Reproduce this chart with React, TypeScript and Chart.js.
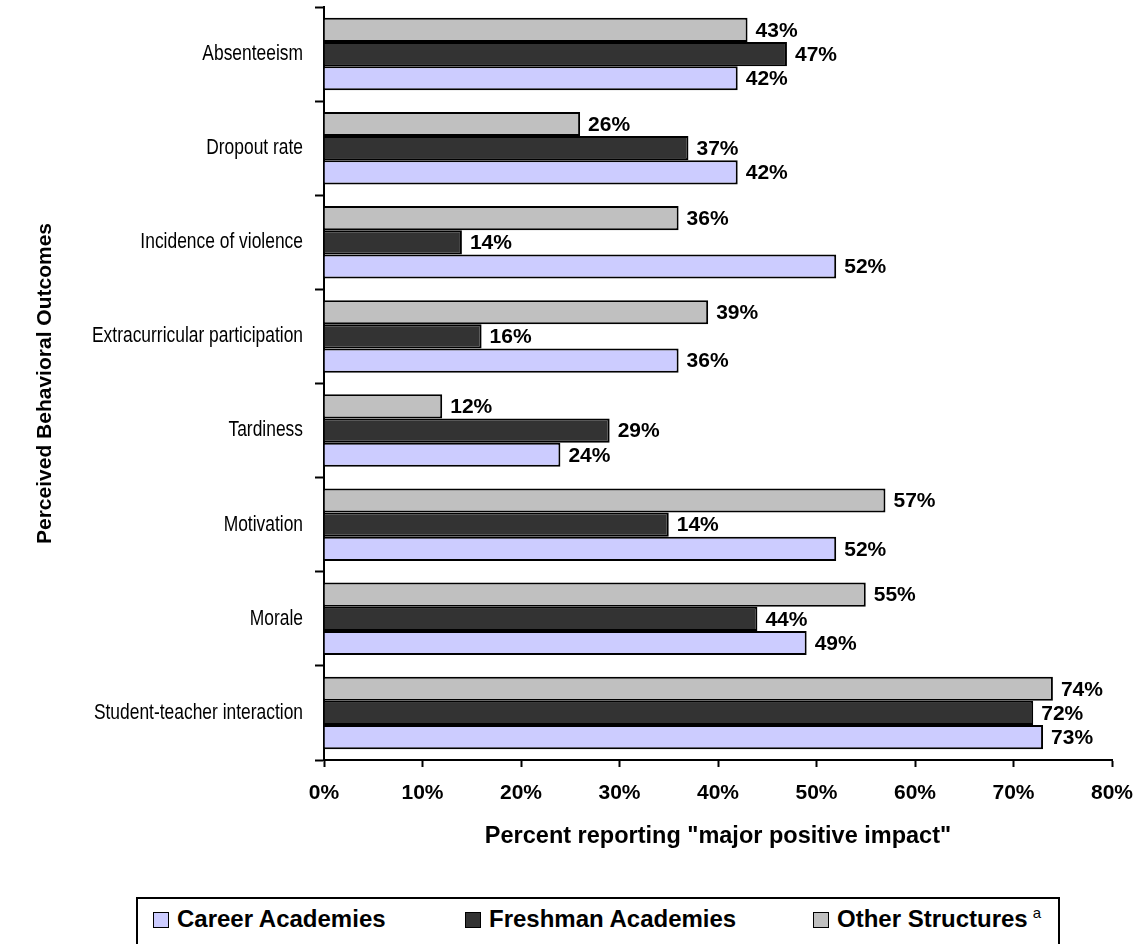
import React, { useEffect, useRef } from "react";
import { Chart, registerables } from "chart.js";

Chart.register(...registerables);

const categories = [
  "Absenteeism",
  "Dropout rate",
  "Incidence of violence",
  "Extracurricular participation",
  "Tardiness",
  "Motivation",
  "Morale",
  "Student-teacher interaction",
];
const careerValues = [42, 42, 52, 36, 24, 52, 49, 73];
const freshmanValues = [47, 37, 14, 16, 29, 35, 44, 72];
const freshmanLabelValues = [47, 37, 14, 16, 29, 14, 44, 72];
const otherValues = [43, 26, 36, 39, 12, 57, 55, 74];
const xTickValues = [0, 10, 20, 30, 40, 50, 60, 70, 80];

const seriesNames = ["Career Academies", "Freshman Academies", "Other Structures"];
const seriesColors = ["#CCCCFF", "#333333", "#C0C0C0"];

const SANS = "'Liberation Sans', Arial, sans-serif";

const valueLabelPlugin = {
  id: "valueLabels",
  afterDatasetsDraw(chart: any) {
    const ctx = chart.ctx;
    ctx.save();
    ctx.font = `bold 21px ${SANS}`;
    ctx.fillStyle = "#000";
    ctx.textAlign = "left";
    ctx.textBaseline = "middle";
    chart.data.datasets.forEach((ds: any, di: number) => {
      const meta = chart.getDatasetMeta(di);
      meta.data.forEach((bar: any, i: number) => {
        const txt = `${ds.labelValues[i]}%`;
        ctx.fillText(txt, bar.x + 8, bar.y + 1);
      });
    });
    ctx.restore();
  },
};

// Category labels in a condensed (narrow) face, drawn at the y scale's own pixel positions
const narrowCategoryLabels = {
  id: "narrowCategoryLabels",
  afterDraw(chart: any) {
    const ctx = chart.ctx;
    const yScale = chart.scales.y;
    const xRight = chart.chartArea.left - 9 - 12;
    ctx.save();
    ctx.font = `21.5px ${SANS}`;
    ctx.fillStyle = "#000";
    ctx.textAlign = "right";
    ctx.textBaseline = "middle";
    categories.forEach((label, i) => {
      const y = yScale.getPixelForValue(i);
      ctx.save();
      ctx.translate(xRight, y);
      ctx.scale(0.81, 1);
      ctx.fillText(label, 0, 0);
      ctx.restore();
    });
    ctx.restore();
  },
};

export default function App() {
  const ref = useRef<HTMLCanvasElement>(null);
  useEffect(() => {
    if (!ref.current) return;
    const chart = new Chart(ref.current, {
      type: "bar",
      data: {
        labels: categories,
        datasets: [
          {
            label: seriesNames[2],
            data: otherValues,
            labelValues: otherValues,
            backgroundColor: seriesColors[2],
            borderColor: "#000",
            borderWidth: 2,
          } as any,
          {
            label: seriesNames[1],
            data: freshmanValues,
            labelValues: freshmanLabelValues,
            backgroundColor: seriesColors[1],
            borderColor: "#000",
            borderWidth: 2,
          } as any,
          {
            label: seriesNames[0],
            data: careerValues,
            labelValues: careerValues,
            backgroundColor: seriesColors[0],
            borderColor: "#000",
            borderWidth: 2,
          } as any,
        ],
      },
      options: {
        indexAxis: "y",
        responsive: false,
        animation: false,
        datasets: { bar: { categoryPercentage: 0.77, barPercentage: 1.0 } },
        layout: { padding: { left: 29, top: 7, right: 31, bottom: 0 } },
        plugins: {
          legend: { display: false },
          tooltip: { enabled: false },
        },
        scales: {
          y: {
            type: "category",
            afterFit: (s: any) => {
              s.width = 324 - 29;
              s.paddingTop = 0;
              s.paddingBottom = 0;
            },
            grid: {
              drawOnChartArea: false,
              drawTicks: true,
              tickLength: 9,
              tickColor: "#000",
              tickWidth: 2,
              offset: true,
            },
            border: { display: true, color: "#000", width: 2 },
            ticks: { display: false },
            title: {
              display: true,
              text: "Perceived Behavioral Outcomes",
              color: "#000",
              font: { family: SANS, size: 21, weight: "bold" },
              padding: { top: 4, bottom: 4 },
            },
          },
          x: {
            type: "linear",
            min: 0,
            max: 80,
            afterFit: (s: any) => {
              s.height = 120;
              s.paddingLeft = 0;
              s.paddingRight = 0;
            },
            afterBuildTicks: (s: any) => {
              s.ticks = xTickValues.map((v) => ({ value: v }));
            },
            grid: {
              drawOnChartArea: false,
              drawTicks: true,
              tickLength: 7,
              tickColor: "#000",
              tickWidth: 2,
            },
            border: { display: true, color: "#000", width: 2 },
            ticks: {
              color: "#000",
              padding: 14,
              maxRotation: 0,
              font: { family: SANS, size: 21, weight: "bold" },
              callback: (v: any) => `${v}%`,
            },
            title: {
              display: true,
              text: 'Percent reporting "major positive impact"',
              color: "#000",
              font: { family: SANS, size: 23.5, weight: "bold" },
              padding: { top: 4, bottom: 29 },
            },
          },
        },
      } as any,
      plugins: [valueLabelPlugin, narrowCategoryLabels],
    });
    return () => chart.destroy();
  }, []);

  const legendItems = [
    { name: seriesNames[0], color: seriesColors[0], box: 153, text: 177 },
    { name: seriesNames[1], color: seriesColors[1], box: 465, text: 489 },
    { name: seriesNames[2], color: seriesColors[2], box: 813, text: 837, sup: "a" },
  ];

  return (
    <div>
      <canvas
        ref={ref}
        width={1143}
        height={880}
        style={{ position: "absolute", left: 0, top: 0, width: 1143, height: 880 }}
      />
      <div
        style={{
          position: "absolute",
          left: 136,
          top: 897,
          width: 924,
          height: 60,
          border: "2px solid #000",
          boxSizing: "border-box",
          background: "#fff",
        }}
      />
      {legendItems.map((it) => (
        <React.Fragment key={it.name}>
          <div
            style={{
              position: "absolute",
              left: it.box,
              top: 912,
              width: 16,
              height: 16,
              boxSizing: "border-box",
              border: "1.5px solid #000",
              background: it.color,
            }}
          />
          <div
            style={{
              position: "absolute",
              left: it.text,
              top: 905,
              height: 28,
              fontFamily: SANS,
              fontWeight: "bold",
              fontSize: 24,
              lineHeight: "28px",
              whiteSpace: "nowrap",
              color: "#000",
            }}
          >
            {it.name}
            {it.sup ? (
              <span
                style={{
                  fontWeight: "normal",
                  fontSize: 15,
                  marginLeft: 5,
                  position: "relative",
                  top: -9,
                }}
              >
                {it.sup}
              </span>
            ) : null}
          </div>
        </React.Fragment>
      ))}
    </div>
  );
}
